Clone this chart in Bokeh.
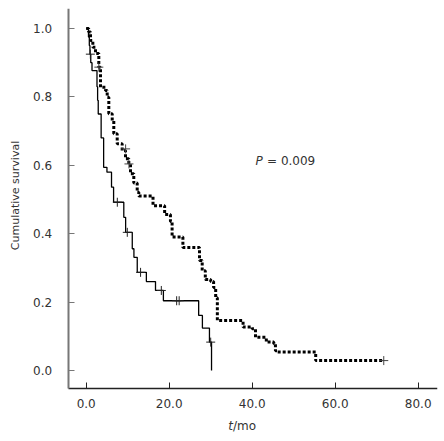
import math
from bokeh.plotting import figure
from bokeh.models import Label, Range1d, FixedTicker
from bokeh.embed import file_html
from bokeh.resources import INLINE

# Group A (solid line): event times and survival after each event
a_times = [0.0, 0.55, 0.75, 0.9, 1.1, 1.4, 2.6, 2.75, 2.9, 3.6, 4.2, 5.0, 6.1, 6.6,
           9.06, 9.5, 11.1, 11.5, 12.3, 14.5, 16.7, 18.6, 27.1, 28.0, 29.7, 30.2]
a_surv = [1.0, 0.975, 0.95, 0.925, 0.90, 0.877, 0.83, 0.79, 0.75, 0.68, 0.594, 0.58, 0.536, 0.492,
          0.448, 0.404, 0.356, 0.331, 0.287, 0.26, 0.234, 0.204, 0.161, 0.124, 0.083, 0.0]
a_cens_t = [1.0, 7.5, 9.9, 13.1, 18.1, 21.8, 22.4, 30.0]
a_cens_s = [0.925, 0.492, 0.404, 0.287, 0.234, 0.204, 0.204, 0.083]

# Group B (dotted line)
b_times = [0.0, 0.6, 1.04, 1.6, 2.24, 3.04, 3.45, 4.65, 5.06, 5.45, 6.27, 6.65, 7.47, 8.67,
           9.47, 10.27, 10.67, 11.47, 12.29, 12.67, 16.1, 18.9, 20.3, 20.7, 23.3, 27.3,
           27.95, 28.7, 30.0, 30.7, 31.2, 31.6, 37.8, 40.0, 40.8, 43.4, 45.2, 45.6, 46.0,
           55.3, 71.7]
b_surv = [1.0, 0.99, 0.965, 0.945, 0.927, 0.887, 0.828, 0.819, 0.799, 0.751, 0.731, 0.692,
          0.663, 0.643, 0.619, 0.604, 0.575, 0.548, 0.521, 0.510, 0.482, 0.456, 0.436, 0.390,
          0.360, 0.322, 0.292, 0.266, 0.260, 0.243, 0.213, 0.146, 0.127, 0.122, 0.097, 0.083,
          0.078, 0.058, 0.054, 0.029, 0.029]
b_cens_t = [3.04, 9.5, 10.3, 71.7]
b_cens_s = [0.887, 0.648, 0.604, 0.029]

x_ticks = [0, 20, 40, 60, 80]
y_ticks = [0.0, 0.2, 0.4, 0.6, 0.8, 1.0]

FONT = "DejaVu Sans"
X_MIN, X_MAX = -4.337, 84.65
Y_MIN, Y_MAX = -0.0526, 1.0585

p = figure(width=444, height=441, output_backend="svg", toolbar_location=None,
           x_range=Range1d(-20.65, X_MAX), y_range=Range1d(-0.2076, Y_MAX),
           min_border_left=0, min_border_right=7, min_border_top=8, min_border_bottom=0)
p.outline_line_color = None
p.grid.visible = False
p.background_fill_color = "white"

p.xaxis.ticker = FixedTicker(ticks=x_ticks)
p.yaxis.ticker = FixedTicker(ticks=y_ticks)
p.xaxis.major_label_overrides = {t: f"{t:.1f}" for t in x_ticks}
p.yaxis.major_label_overrides = {t: f"{t:.1f}" for t in y_ticks}
for ax in (p.xaxis, p.yaxis):
    ax.major_tick_in = 6
    ax.major_tick_out = 0
    ax.minor_tick_line_color = None
    ax.major_label_text_font = FONT
    ax.major_label_text_font_size = "12px"
    ax.major_label_text_color = "#333333"
p.xaxis.fixed_location = Y_MIN
p.xaxis.bounds = (X_MIN, X_MAX)
p.yaxis.fixed_location = X_MIN
p.yaxis.bounds = (Y_MIN, Y_MAX)
p.xaxis.axis_line_color = "#222222"
p.xaxis.major_tick_line_color = "#222222"
p.xaxis.axis_line_width = 1.5
p.yaxis.axis_line_color = "#777777"
p.yaxis.major_tick_line_color = "#777777"
p.yaxis.axis_line_width = 2
p.xaxis.major_label_standoff = 11
p.yaxis.major_label_standoff = 16

p.step(x=b_times, y=b_surv, mode="after", line_color="black", line_width=3,
       line_dash="3 2")
p.step(x=a_times, y=a_surv, mode="after", line_color="black", line_width=1.3)
p.scatter(x=a_cens_t, y=a_cens_s, marker="cross", size=9, line_color="#222222", line_width=1)
p.scatter(x=b_cens_t, y=b_cens_s, marker="cross", size=9, line_color="#444444", line_width=1)

# y axis label
p.add_layout(Label(x=-17.04, y=0.5117, text="Cumulative survival", angle=math.pi / 2,
                   text_font=FONT, text_font_size="11px", text_color="#333333",
                   text_align="center", text_baseline="middle"))

# x axis label: italic t + "/mo"
p.add_layout(Label(x=35.37, y=-0.1637, text="t", text_font=FONT, text_font_style="italic",
                   text_font_size="12px", text_color="#333333", text_align="right",
                   text_baseline="middle"))
p.add_layout(Label(x=35.37, y=-0.1637, text="/mo", text_font=FONT, text_font_size="12px",
                   text_color="#333333", text_align="left", text_baseline="middle"))

# P value annotation
p.add_layout(Label(x=40.8, y=0.614, text="P", text_font=FONT, text_font_style="italic",
                   text_font_size="12px", text_color="#333333", text_align="left",
                   text_baseline="middle"))
p.add_layout(Label(x=40.8, y=0.614, x_offset=11.5, text="= 0.009", text_font=FONT,
                   text_font_size="12px", text_color="#333333", text_align="left",
                   text_baseline="middle"))

open("out.html", "w").write(file_html(p, INLINE))
